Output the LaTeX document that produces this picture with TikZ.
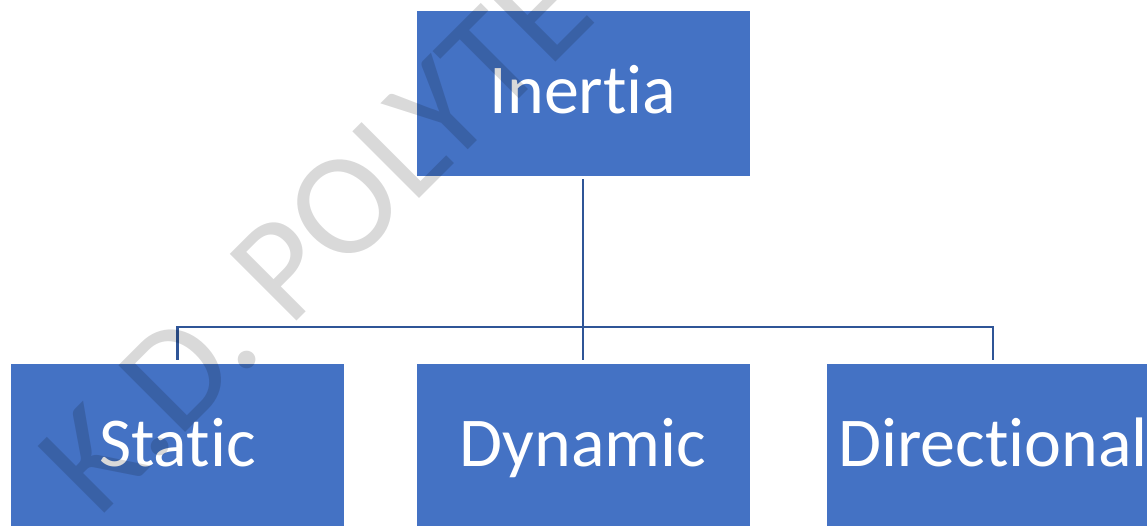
\documentclass[tikz,border=0pt]{standalone}
\usepackage{fontspec}
\setmainfont{Carlito}[Ligatures={NoCommon,NoContextual,NoRare}]
\definecolor{boxblue}{RGB}{68,114,196}
\definecolor{lineblue}{RGB}{47,85,151}
\begin{document}
\begin{tikzpicture}[x=1pt,y=-1pt,
  box/.style={rectangle, fill=boxblue, draw=white, line width=0.8pt,
    minimum width=334pt, minimum height=166pt, inner sep=0pt, text=white,
    font=\fontsize{70}{84}\selectfont, text height=40pt, text depth=0pt},
  conn/.style={draw=lineblue, line width=2.8pt},
  wm/.style={inner sep=0pt, text=black, text opacity=0.15,
    font=\fontsize{147}{170}\selectfont}]
\useasboundingbox (0,0) rectangle (1147,525);
\clip (0,0) rectangle (1147,525);
\fill[white] (0,0) rectangle (1147,525);
\node[box] (top) at (583,93) {Inertia};
\node[box] (s) at (177.5,446) {Static};
\node[box] (d) at (583,446) {Dynamic};
\node[box] (r) at (993,446) {Directional};
\coordinate (bar) at (583,327);
\draw[conn, shorten <=3pt, shorten >=3pt] (s.north) -- (s.north |- bar) -- (r.north |- bar) -- (r.north);
\draw[conn, shorten <=3pt, shorten >=3pt] (top.south) -- (d.north);
\node[wm, anchor=base west, rotate=45] (wm) at (98,520) {K.D. POLYTECHNIC};
\end{tikzpicture}
\end{document}
